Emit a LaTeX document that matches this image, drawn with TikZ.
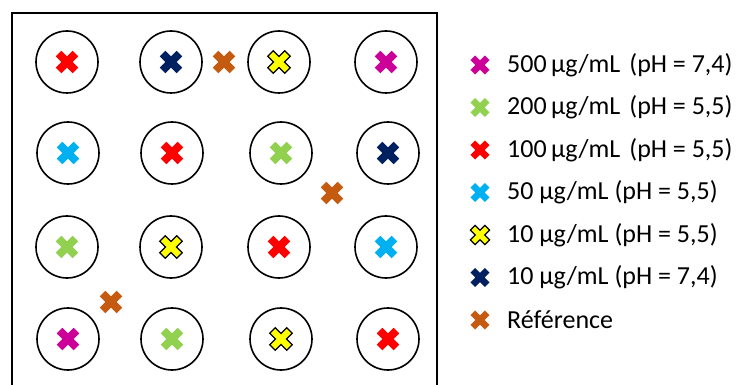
\documentclass[tikz,border=0pt]{standalone}
\usepackage{fontspec}
\setmainfont{Carlito}
\usetikzlibrary{positioning}
\definecolor{xred}{HTML}{FF0000}
\definecolor{xnavy}{HTML}{002060}
\definecolor{xyellow}{HTML}{FFFF00}
\definecolor{xmagenta}{HTML}{CC0099}
\definecolor{xgreen}{HTML}{92D050}
\definecolor{xcyan}{HTML}{00B0F0}
\definecolor{xorange}{HTML}{C55A11}

\begin{document}
\begin{tikzpicture}[
  x=1pt, y=-1pt,
  well/.style={circle, draw=black, line width=1.6pt, minimum size=62pt, inner sep=0pt},
  legend/.style={anchor=west, inner sep=0pt, font=\fontsize{26}{30}\selectfont},
  pics/cross/.style={code={
    \path[rotate=45, #1] (12,3.9) -- (3.9,3.9) -- (3.9,12) -- (-3.9,12) -- (-3.9,3.9)
      -- (-12,3.9) -- (-12,-3.9) -- (-3.9,-3.9) -- (-3.9,-12) -- (3.9,-12)
      -- (3.9,-3.9) -- (12,-3.9) -- cycle;
  }},
  c500/.style={fill=xmagenta},
  c200/.style={fill=xgreen},
  c100/.style={fill=xred},
  c50/.style={fill=xcyan},
  c10a/.style={fill=xyellow, draw=black, line width=1.3pt},
  c10b/.style={fill=xnavy},
  cref/.style={fill=xorange},
]
\useasboundingbox (0,0) rectangle (737,385);
\clip (0,0) rectangle (737,385);

% Plate
\draw[line width=2pt] (12,13) rectangle (437,400);

% Wells, row 1
\node[well] (w11) at (67,62) {};
\node[well] (w12) at (171,62) {};
\node[well] (w13) at (279,62) {};
\node[well] (w14) at (386,62) {};
% Wells, row 2
\node[well] (w21) at (68,153) {};
\node[well] (w22) at (172,153) {};
\node[well] (w23) at (281,153) {};
\node[well] (w24) at (388,153) {};
% Wells, row 3
\node[well] (w31) at (67,247) {};
\node[well] (w32) at (171,247) {};
\node[well] (w33) at (279,247) {};
\node[well] (w34) at (386,247) {};
% Wells, row 4
\node[well] (w41) at (68,339) {};
\node[well] (w42) at (172,339) {};
\node[well] (w43) at (281,339) {};
\node[well] (w44) at (388,339) {};

% Samples
\pic at (w11) {cross=c100};
\pic at (w12) {cross=c10b};
\pic at (w13) {cross=c10a};
\pic at (w14) {cross=c500};
\pic at (w21) {cross=c50};
\pic at (w22) {cross=c100};
\pic at (w23) {cross=c200};
\pic at (w24) {cross=c10b};
\pic at (w31) {cross=c200};
\pic at (w32) {cross=c10a};
\pic at (w33) {cross=c100};
\pic at (w34) {cross=c50};
\pic at (w41) {cross=c500};
\pic at (w42) {cross=c200};
\pic at (w43) {cross=c10a};
\pic at (w44) {cross=c100};

% Reference spots
\pic at (224,62) {cross=cref};
\pic at (332,193) {cross=cref};
\pic at (111,302) {cross=cref};

% Legend
\node[legend] (leg500) at (507,65) {500\,µg/mL\hspace{0.35em}(pH = 7,4)};
\node[legend, below=42.5pt of leg500.west, anchor=west] (leg200) {200\,µg/mL\hspace{0.35em}(pH = 5,5)};
\node[legend, below=42.5pt of leg200.west, anchor=west] (leg100) {100\,µg/mL\hspace{0.35em}(pH = 5,5)};
\node[legend, below=42.5pt of leg100.west, anchor=west] (leg50) {50 µg/mL (pH = 5,5)};
\node[legend, below=42.5pt of leg50.west, anchor=west] (leg10a) {10 µg/mL (pH = 5,5)};
\node[legend, below=42.5pt of leg10a.west, anchor=west] (leg10b) {10 µg/mL (pH = 7,4)};
\node[legend, below=42.5pt of leg10b.west, anchor=west] (legref) {Référence};

\pic[scale=0.85] at ([xshift=-27pt]leg500.west) {cross=c500};
\pic[scale=0.85] at ([xshift=-27pt]leg200.west) {cross=c200};
\pic[scale=0.85] at ([xshift=-27pt]leg100.west) {cross=c100};
\pic[scale=0.85] at ([xshift=-27pt]leg50.west) {cross=c50};
\pic[scale=0.85] at ([xshift=-27pt]leg10a.west) {cross=c10a};
\pic[scale=0.85] at ([xshift=-27pt]leg10b.west) {cross=c10b};
\pic[scale=0.85] at ([xshift=-27pt]legref.west) {cross=cref};
\end{tikzpicture}
\end{document}
